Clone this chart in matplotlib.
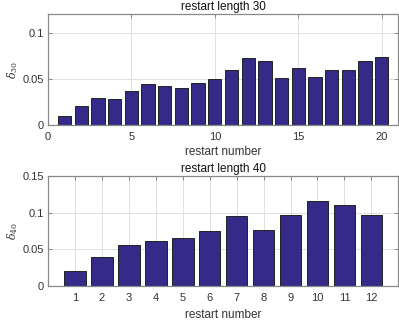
import matplotlib
matplotlib.use("Agg")
import matplotlib.pyplot as plt

# values
restarts_30 = list(range(1, 21))
delta_30 = [0.0105, 0.0203, 0.0297, 0.0286, 0.0373, 0.0442, 0.0420, 0.0400, 0.0457, 0.0500,
            0.0594, 0.0721, 0.0688, 0.0507, 0.0616, 0.0522, 0.0594, 0.0594, 0.0692, 0.0736]

restarts_40 = list(range(1, 13))
delta_40 = [0.0200, 0.0390, 0.0564, 0.0618, 0.0659, 0.0755, 0.0950, 0.0759, 0.0968, 0.1155,
            0.1100, 0.0973]

plt.rcParams["font.family"] = ["Liberation Sans", "DejaVu Sans"]
plt.rcParams["mathtext.fontset"] = "dejavuserif"

bar_color = "#352a87"
text_color = "#333333"
axis_color = "#888888"

fig = plt.figure(figsize=(3.99, 3.21), dpi=100)
ax1 = fig.add_axes([0.1203, 0.6097, 0.878, 0.3467])
ax2 = fig.add_axes([0.1203, 0.109, 0.878, 0.3427])


def style(ax):
    ax.set_axisbelow(True)
    ax.grid(True, color="#e0e0e0", linewidth=0.7)
    for s in ax.spines.values():
        s.set_color(axis_color)
        s.set_linewidth(0.9)
    ax.tick_params(direction="in", length=3, width=0.7, color=axis_color,
                   labelsize=8, labelcolor=text_color, top=True, right=True)
    ax.tick_params(axis="x", pad=5)
    ax.tick_params(axis="y", pad=3)


ax1.bar(restarts_30, delta_30, width=0.8, color=bar_color, edgecolor="#222222", linewidth=0.7)
ax1.set_xlim(0, 21)
ax1.set_ylim(0, 0.12)
ax1.set_xticks([0, 5, 10, 15, 20])
ax1.set_yticks([0, 0.05, 0.1])
ax1.set_yticklabels(["0", "0.05", "0.1"])
ax1.set_title("restart length 30", fontsize=8.5, color="#111111", pad=3)
ax1.set_xlabel("restart number", fontsize=8.5, color=text_color, labelpad=3)
ax1.set_ylabel(r"$\delta_{30}$", fontsize=8, color=text_color, labelpad=2)
style(ax1)

ax2.bar(restarts_40, delta_40, width=0.8, color=bar_color, edgecolor="#222222", linewidth=0.7)
ax2.set_xlim(0, 13)
ax2.set_ylim(0, 0.15)
ax2.set_xticks(restarts_40)
ax2.set_yticks([0, 0.05, 0.1, 0.15])
ax2.set_yticklabels(["0", "0.05", "0.1", "0.15"])
ax2.set_title("restart length 40", fontsize=8.5, color="#111111", pad=3)
ax2.set_xlabel("restart number", fontsize=8.5, color=text_color, labelpad=4)
ax2.set_ylabel(r"$\delta_{40}$", fontsize=8, color=text_color, labelpad=2)
style(ax2)

fig.savefig("out.png", dpi=100)
